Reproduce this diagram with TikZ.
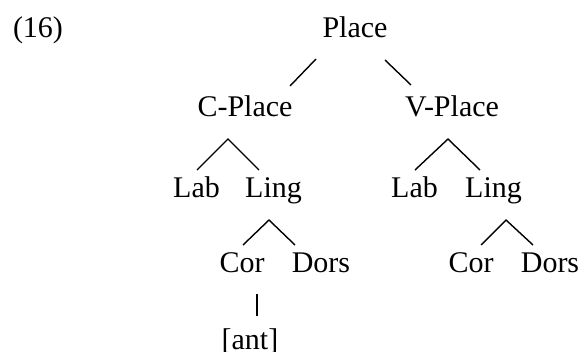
\documentclass[tikz,border=0pt]{standalone}
\usepackage{fontspec}
\setmainfont{Liberation Serif}
\begin{document}
\begin{tikzpicture}[x=1pt,y=-1pt,
  lab/.style={anchor=base, inner sep=0pt, font=\fontsize{30}{36}\selectfont},
  branch/.style={line width=1.4pt}]
\useasboundingbox (0,0) rectangle (583,351);
% labels
\node[lab] (n16) at (38,37) {(16)};
\node[lab] (place) at (355,37.5) {Place};
\node[lab] (cplace) at (245,116) {C-Place};
\node[lab] (vplace) at (452,116) {V-Place};
\node[lab] (labL) at (196.5,197) {Lab};
\node[lab] (lingL) at (273.5,197) {Ling};
\node[lab] (labR) at (414.5,197) {Lab};
\node[lab] (lingR) at (493.5,197) {Ling};
\node[lab] (corL) at (242,272) {Cor};
\node[lab] (dorsL) at (321,272) {Dors};
\node[lab] (corR) at (471,272) {Cor};
\node[lab] (dorsR) at (550,272) {Dors};
\node[lab] (ant) at (250,349) {[ant]};
% branch end points
\coordinate (pC1) at (316,59);  \coordinate (pC2) at (290,86);
\coordinate (pV1) at (385,60);  \coordinate (pV2) at (411,85);
\coordinate (cA) at (228,139); \coordinate (cL) at (197,170); \coordinate (cR) at (259,170);
\coordinate (vA) at (448,139); \coordinate (vL) at (415,170); \coordinate (vR) at (480,170);
\coordinate (lA) at (269,220); \coordinate (lL) at (243,245); \coordinate (lR) at (295,245);
\coordinate (rA) at (506,220); \coordinate (rL) at (481,245); \coordinate (rR) at (533,245);
\coordinate (a1) at (257,294); \coordinate (a2) at (257,316);
% branches
\draw[branch] (pC1) -- (pC2);
\draw[branch] (pV1) -- (pV2);
\draw[branch] (cL) -- (cA) -- (cR);
\draw[branch] (vL) -- (vA) -- (vR);
\draw[branch] (lL) -- (lA) -- (lR);
\draw[branch] (rL) -- (rA) -- (rR);
\draw[branch, line width=1.8pt] (a1) -- (a2);
\end{tikzpicture}
\end{document}
